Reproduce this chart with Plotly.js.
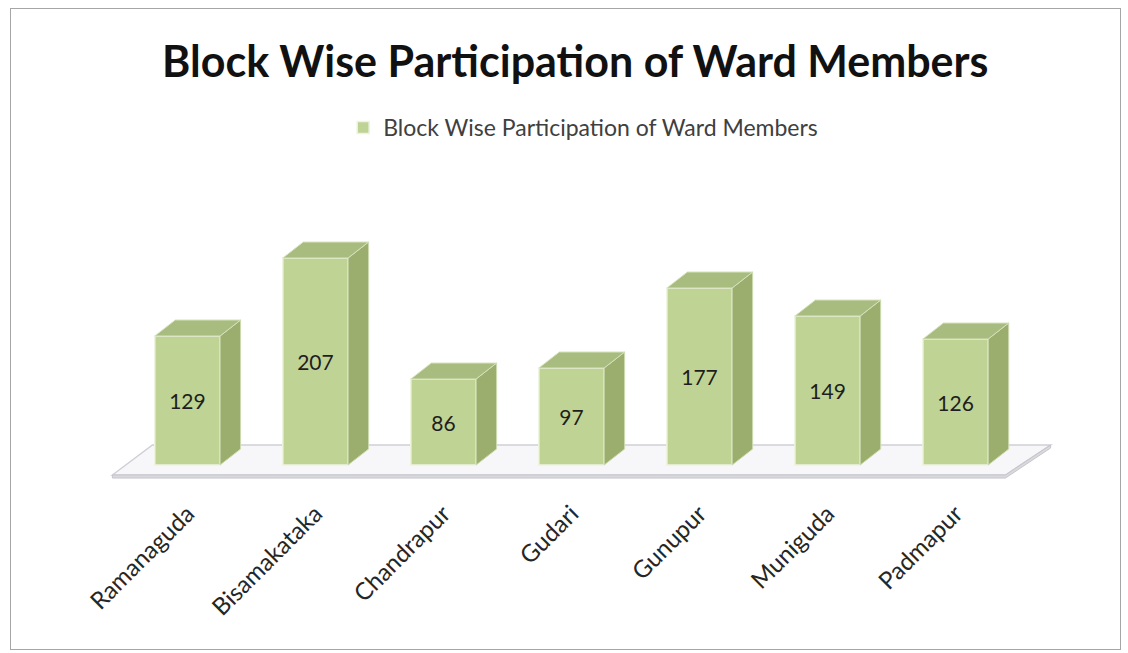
<!DOCTYPE html>
<html>
<head>
<meta charset="utf-8">
<script src="https://cdn.plot.ly/plotly-3.0.1.min.js"></script>
<style>
  html, body { margin: 0; padding: 0; background: #ffffff; }
  #wrap { position: relative; width: 1128px; height: 653px; }
  #chart { width: 1128px; height: 653px; }
  #frame { position: absolute; left: 10px; top: 8px; width: 1109px; height: 640px;
           border: 1px solid #a6a6a6; pointer-events: none; }
</style>
</head>
<body>
<div id="wrap">
  <div id="chart"></div>
  <div id="frame"></div>
</div>
<script>
// ---- data ----
const categories = ["Ramanaguda", "Bisamakataka", "Chandrapur", "Gudari", "Gunupur", "Muniguda", "Padmapur"];
const values = [129, 207, 86, 97, 177, 149, 126];
const seriesName = "Block Wise Participation of Ward Members";
const chartTitle = "Block Wise Participation of Ward Members";

// ---- 3D look parameters (styling) ----
const barW = 0.51;      // bar front width in category units
const dx = 0.16;        // depth offset in x (category units)
const dy = 16;          // depth offset in y (value units)
const xs = categories.map((c, i) => i);
const n = categories.length;

// side and top faces of the bars, derived from the values
const sideX = [], sideY = [], topX = [], topY = [];
xs.forEach((x, i) => {
  const v = values[i];
  const r = x + barW / 2, l = x - barW / 2;
  sideX.push(r, r + dx, r + dx, r, r, null);
  sideY.push(0, dy, v + dy, v, 0, null);
  topX.push(l, l + dx, r + dx, r, l, null);
  topY.push(v, v + dy, v + dy, v, v, null);
});

// floor (decoration, derived from the category count)
const fFL = -0.586, fBL = -0.273, fBR = n - 1 + 0.742, fFR = n - 1 + 0.39;
const yF = -10, yB = 20, th = 3;
const floorPath = `M ${fFL},${yF} L ${fBL},${yB} L ${fBR},${yB} L ${fFR},${yF} Z`;
const edgePath = `M ${fFL},${yF} L ${fFR},${yF} L ${fBR},${yB} L ${fBR},${yB - th} L ${fFR},${yF - th} L ${fFL},${yF - th} Z`;

const traces = [
  { type: "bar", name: seriesName, x: xs, y: values, width: barW,
    marker: { color: "#bfd395", line: { color: "#eef4df", width: 1.5 } },
    text: values.map(String), textposition: "inside", insidetextanchor: "middle",
    textangle: 0,
    textfont: { family: "Lato, 'Open Sans', sans-serif", size: 21, color: "#1e1e1e" },
    hoverinfo: "x+y" },
  { type: "scatter", x: sideX, y: sideY, mode: "lines", fill: "toself",
    fillcolor: "#9bae6d", line: { color: "#cddbb0", width: 1 },
    hoverinfo: "skip", showlegend: false },
  { type: "scatter", x: topX, y: topY, mode: "lines", fill: "toself",
    fillcolor: "#a9bc7f", line: { color: "#d6e2bd", width: 1 },
    hoverinfo: "skip", showlegend: false }
];

const layout = {
  width: 1128, height: 653,
  paper_bgcolor: "#ffffff", plot_bgcolor: "rgba(0,0,0,0)",
  margin: { l: 85, r: 70, t: 215, b: 173 },
  title: { text: "<b>" + chartTitle + "</b>", x: 0.51, xanchor: "center",
           y: 1 - 62 / 653, yanchor: "middle", yref: "container",
           font: { family: "Lato, 'Open Sans', sans-serif", size: 43, color: "#111111" } },
  showlegend: true,
  legend: { orientation: "h", x: 0.512, xanchor: "center", y: 1.33, yanchor: "middle",
            font: { family: "Lato, 'Open Sans', sans-serif", size: 23, color: "#404040" },
            bgcolor: "rgba(0,0,0,0)", itemwidth: 30 },
  xaxis: { range: [-0.8, 6.8], tickvals: xs, ticktext: categories, tickangle: -45,
           showgrid: false, zeroline: false, showline: false, ticks: "",
           ticklabelstandoff: 14,
           tickfont: { family: "Lato, 'Open Sans', sans-serif", size: 24, color: "#262626" },
           fixedrange: true },
  yaxis: { range: [-15, 250], showgrid: false, zeroline: false, showline: false,
           showticklabels: false, ticks: "", fixedrange: true },
  shapes: [
    { type: "path", path: floorPath, xref: "x", yref: "y", layer: "below",
      fillcolor: "#f7f7f9", line: { color: "#cfcfd6", width: 1.5 } },
    { type: "path", path: edgePath, xref: "x", yref: "y", layer: "below",
      fillcolor: "#dadade", line: { color: "#c4c4cc", width: 1 } }
  ]
};

Plotly.newPlot("chart", traces, layout, { displayModeBar: false, staticPlot: true });
</script>
</body>
</html>
